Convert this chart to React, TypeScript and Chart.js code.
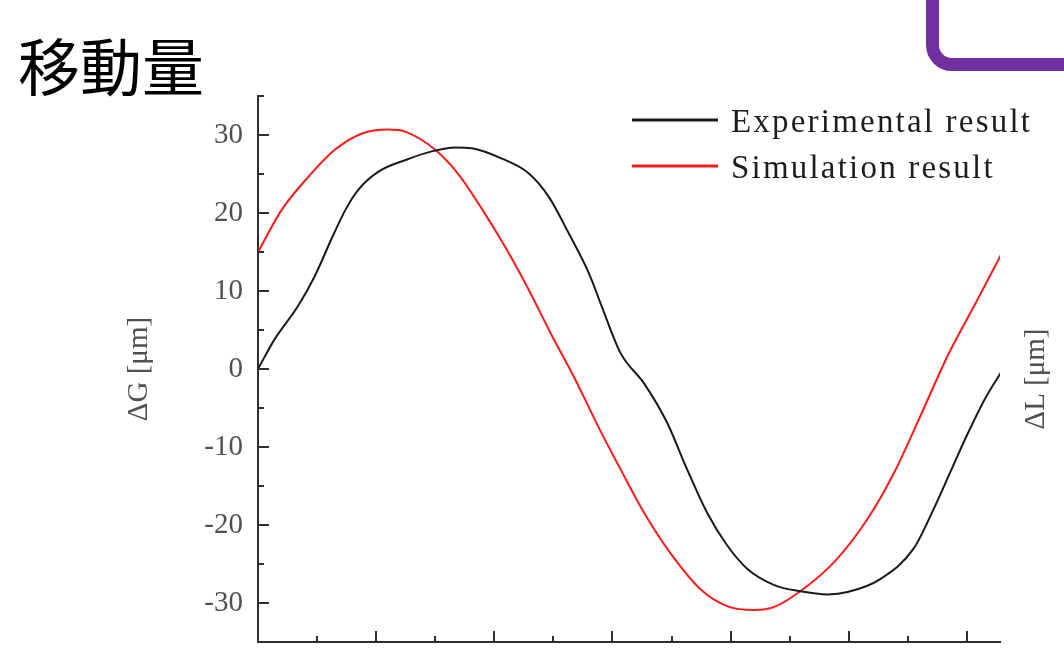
import React, { useEffect, useRef } from "react";
import { Chart, registerables } from "chart.js";

Chart.register(...registerables);

// ---- data ----
const TITLE = "移動量";
const Y_TITLE = "ΔG [μm]";
const Y2_TITLE = "ΔL [μm]";

const EXP_LABEL = "Experimental result";
const EXP_X = [0, 0.14, 0.34, 0.48, 0.62, 0.74, 0.85, 1.02, 1.25, 1.47, 1.67, 1.81, 2.06, 2.29, 2.46, 2.63, 2.8, 2.91, 3.07, 3.27, 3.46, 3.63, 3.8, 3.97, 4.14, 4.37, 4.59, 4.82, 4.99, 5.27, 5.55, 5.72, 5.86, 6.0, 6.15, 6.29];
const EXP_Y = [0, 3.8, 8.1, 11.9, 16.6, 20.4, 23.0, 25.3, 26.8, 27.9, 28.4, 28.3, 27.0, 25.1, 22.1, 17.4, 12.3, 8.0, 2.0, -1.9, -6.8, -12.8, -18.4, -22.6, -25.6, -27.7, -28.5, -28.9, -28.6, -26.9, -23.0, -17.9, -13.2, -8.5, -3.9, -0.4];

const SIM_LABEL = "Simulation result";
const SIM_X = [0, 0.2, 0.43, 0.65, 0.88, 1.1, 1.25, 1.5, 1.7, 1.9, 2.09, 2.29, 2.49, 2.67, 2.9, 3.07, 3.27, 3.49, 3.75, 3.97, 4.2, 4.37, 4.59, 4.88, 5.16, 5.38, 5.61, 5.84, 6.09, 6.29];
const SIM_Y = [15.0, 20.4, 24.7, 28.1, 30.2, 30.7, 30.4, 28.1, 24.9, 20.4, 15.7, 10.2, 4.2, -0.9, -8.0, -12.9, -18.5, -23.6, -28.3, -30.4, -30.9, -30.5, -28.5, -24.7, -19.2, -13.4, -5.9, 1.8, 8.9, 14.7];

const Y_MAJOR = [-30, -20, -10, 0, 10, 20, 30];
const Y_MINOR = [-25, -15, -5, 5, 15, 25, 35];
const X_MAJOR = [1, 2, 3, 4, 5, 6];
const X_MINOR = [0.5, 1.5, 2.5, 3.5, 4.5, 5.5];
const X_MIN = 0;
const X_MAX = 6.28;
const Y_MIN = -35;
const Y_MAX = 35;

// ---- styles ----
const SERIF = '"Liberation Serif", "DejaVu Serif", "Times New Roman", serif';
const AXIS_COLOR = "#2e2e2e";
const LABEL_COLOR = "#505050";
const EXP_COLOR = "#1a1a1a";
const SIM_COLOR = "#ff1a1a";

const decorPlugin = {
  id: "decor",
  afterDraw(chart: any) {
    const { ctx, scales } = chart;
    const xs = scales.x;
    const ys = scales.y;
    const x0 = xs.getPixelForValue(X_MIN);
    const yb = ys.getPixelForValue(Y_MIN);
    ctx.save();
    ctx.strokeStyle = AXIS_COLOR;
    ctx.lineWidth = 2;
    ctx.beginPath();
    Y_MAJOR.forEach((v) => {
      const p = Math.round(ys.getPixelForValue(v));
      ctx.moveTo(x0, p);
      ctx.lineTo(x0 + 11, p);
    });
    Y_MINOR.forEach((v) => {
      const p = Math.round(ys.getPixelForValue(v));
      ctx.moveTo(x0, p);
      ctx.lineTo(x0 + 6, p);
    });
    X_MAJOR.forEach((v) => {
      const p = Math.round(xs.getPixelForValue(v));
      ctx.moveTo(p, yb);
      ctx.lineTo(p, yb - 11);
    });
    X_MINOR.forEach((v) => {
      const p = Math.round(xs.getPixelForValue(v));
      ctx.moveTo(p, yb);
      ctx.lineTo(p, yb - 6);
    });
    ctx.stroke();

    // legend
    const items = chart.data.datasets;
    const rows = [120, 166];
    items.forEach((ds: any, i: number) => {
      const y = rows[i];
      ctx.strokeStyle = ds.borderColor;
      ctx.lineWidth = 3;
      ctx.beginPath();
      ctx.moveTo(632, y);
      ctx.lineTo(718, y);
      ctx.stroke();
      ctx.fillStyle = "#1e1e1e";
      ctx.font = `33px ${SERIF}`;
      (ctx as any).letterSpacing = "2.2px";
      ctx.textAlign = "left";
      ctx.textBaseline = "alphabetic";
      ctx.fillText(ds.label, 731, y + 12);
    });
    (ctx as any).letterSpacing = "0px";

    // right axis title
    ctx.translate(1036, 379);
    ctx.rotate(-Math.PI / 2);
    ctx.fillStyle = LABEL_COLOR;
    ctx.font = `29px ${SERIF}`;
    ctx.textAlign = "center";
    ctx.textBaseline = "middle";
    ctx.fillText(Y2_TITLE, 0, 0);
    ctx.restore();
  },
};

export default function App() {
  const ref = useRef<HTMLCanvasElement | null>(null);

  useEffect(() => {
    if (!ref.current) return;
    const chart = new Chart(ref.current, {
      type: "line",
      data: {
        datasets: [
          {
            label: EXP_LABEL,
            data: EXP_X.map((x, i) => ({ x, y: EXP_Y[i] })),
            borderColor: EXP_COLOR,
            borderWidth: 2,
            pointRadius: 0,
            cubicInterpolationMode: "monotone",
            fill: false,
          },
          {
            label: SIM_LABEL,
            data: SIM_X.map((x, i) => ({ x, y: SIM_Y[i] })),
            borderColor: SIM_COLOR,
            borderWidth: 2,
            pointRadius: 0,
            cubicInterpolationMode: "monotone",
            fill: false,
          },
        ],
      },
      options: {
        responsive: false,
        animation: false,
        events: [],
        layout: { padding: { left: 122, right: 64, top: 96, bottom: 7 } },
        plugins: {
          legend: { display: false },
          tooltip: { enabled: false },
          title: { display: false },
        },
        scales: {
          x: {
            type: "linear",
            min: X_MIN,
            max: X_MAX,
            ticks: { display: false },
            grid: { display: false, drawTicks: false },
            border: { display: true, color: AXIS_COLOR, width: 2 },
            afterFit: (s: any) => {
              s.height = 0;
              s.paddingLeft = 0;
              s.paddingRight = 0;
            },
          },
          y: {
            type: "linear",
            min: Y_MIN,
            max: Y_MAX,
            afterBuildTicks: (s: any) => {
              s.ticks = Y_MAJOR.map((v) => ({ value: v }));
            },
            ticks: {
              autoSkip: false,
              padding: 15,
              color: LABEL_COLOR,
              font: { family: SERIF, size: 29 },
            },
            grid: { display: false, drawTicks: false },
            border: { display: true, color: AXIS_COLOR, width: 2 },
            title: {
              display: true,
              text: Y_TITLE,
              color: LABEL_COLOR,
              font: { family: SERIF, size: 29 },
              padding: 0,
            },
            afterFit: (s: any) => {
              s.width = 136;
              s.paddingTop = 0;
              s.paddingBottom = 0;
            },
          },
        },
      },
      plugins: [decorPlugin],
    } as any);
    return () => chart.destroy();
  }, []);

  return (
    <div
      style={{
        position: "absolute",
        left: 0,
        top: 0,
        width: 1064,
        height: 649,
        overflow: "hidden",
        background: "#ffffff",
      }}
    >
      <canvas ref={ref} width={1064} height={649} style={{ position: "absolute", left: 0, top: 0, width: 1064, height: 649 }} />
      <div
        style={{
          position: "absolute",
          left: 18,
          top: 33,
          fontSize: 62,
          lineHeight: "62px",
          fontFamily: '"Noto Sans CJK JP", "Noto Sans CJK SC", sans-serif',
          color: "#000000",
          whiteSpace: "nowrap",
        }}
      >
        {TITLE}
      </div>
      <div
        style={{
          position: "absolute",
          left: 926,
          top: -70,
          width: 300,
          height: 141,
          boxSizing: "border-box",
          border: "13px solid #7030a0",
          borderRadius: 26,
        }}
      />
    </div>
  );
}
